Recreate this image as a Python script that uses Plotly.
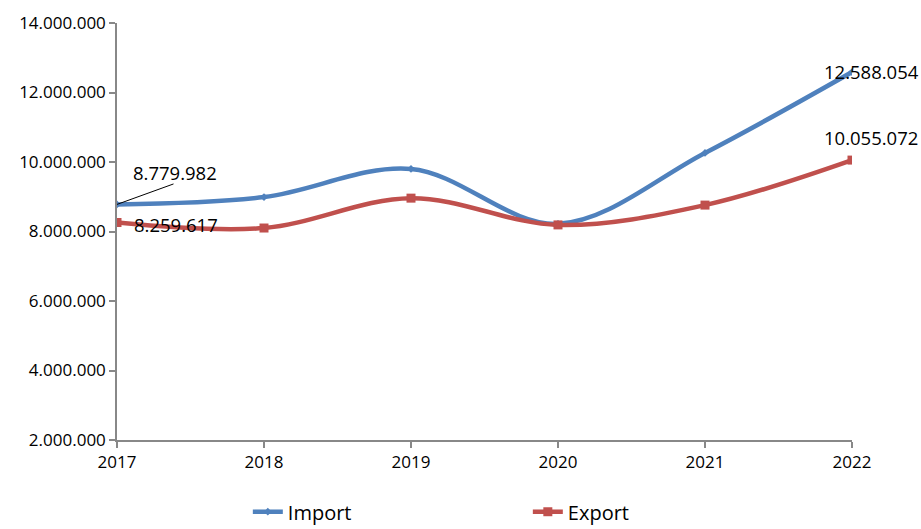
import plotly.graph_objects as go

years = [2017, 2018, 2019, 2020, 2021, 2022]
import_vals = [8779982, 8990000, 9800000, 8220000, 10260000, 12588054]
export_vals = [8259617, 8100000, 8960000, 8190000, 8760000, 10055072]
y_ticks = [2000000, 4000000, 6000000, 8000000, 10000000, 12000000, 14000000]
y_tick_labels = ["2.000.000", "4.000.000", "6.000.000", "8.000.000", "10.000.000", "12.000.000", "14.000.000"]

BLUE = "#4F81BD"
RED = "#C0504D"
FONT = "Open Sans"

def fmt(v):
    return f"{v:,}".replace(",", ".")

fig = go.Figure()
fig.add_trace(go.Scatter(
    x=years, y=import_vals, name="Import", mode="lines+markers",
    line=dict(color=BLUE, width=4.5, shape="spline", smoothing=1.0),
    marker=dict(symbol="diamond", size=6, color=BLUE),
))
fig.add_trace(go.Scatter(
    x=years, y=export_vals, name="Export", mode="lines+markers",
    line=dict(color=RED, width=4.5, shape="spline", smoothing=1.0),
    marker=dict(symbol="square", size=9, color=RED),
))

ann_font = dict(family=FONT, size=18.5, color="#000000")
annotations = [
    # leader line for the first import label
    dict(x=years[0], y=import_vals[0], text="", showarrow=True,
         ax=58, ay=-21, arrowhead=0, arrowwidth=1, arrowcolor="#000000",
         standoff=0, startstandoff=0, font=dict(size=1)),
    dict(x=years[0], y=import_vals[0], text=fmt(import_vals[0]), showarrow=False,
         xanchor="center", xshift=58, yshift=32, font=ann_font),
    dict(x=years[0], y=export_vals[0], text=fmt(export_vals[0]), showarrow=False,
         xanchor="left", xshift=15, yshift=-2, font=ann_font),
    dict(x=years[-1], y=import_vals[-1], text=fmt(import_vals[-1]), showarrow=False,
         xanchor="center", xshift=19, yshift=1, font=ann_font),
    dict(x=years[-1], y=export_vals[-1], text=fmt(export_vals[-1]), showarrow=False,
         xanchor="center", xshift=19, yshift=23, font=ann_font),
]

fig.update_layout(
    width=921, height=529,
    margin=dict(l=117, r=69, t=23, b=89, autoexpand=False),
    paper_bgcolor="white", plot_bgcolor="white",
    font=dict(family=FONT, size=17, color="#000000"),
    showlegend=True,
    legend=dict(orientation="h", x=0.178, xanchor="left", y=-0.172, yanchor="middle",
                font=dict(family=FONT, size=20, color="#000000"),
                entrywidth=235, traceorder="normal"),
    annotations=annotations,
    xaxis=dict(range=[2017, 2022], tickmode="array", tickvals=years,
               ticktext=[str(y) for y in years], showgrid=False, zeroline=False,
               showline=True, linecolor="#888888", linewidth=1.5,
               ticks="outside", ticklen=6, tickcolor="#888888", tickwidth=1.5,
               automargin=False),
    yaxis=dict(range=[2000000, 14000000], tickmode="array", tickvals=y_ticks,
               ticktext=y_tick_labels, showgrid=False, zeroline=False,
               showline=True, linecolor="#888888", linewidth=1.5,
               ticks="outside", ticklen=6, tickcolor="#888888", tickwidth=1.5,
               automargin=False),
)

fig.write_html("out.html")
